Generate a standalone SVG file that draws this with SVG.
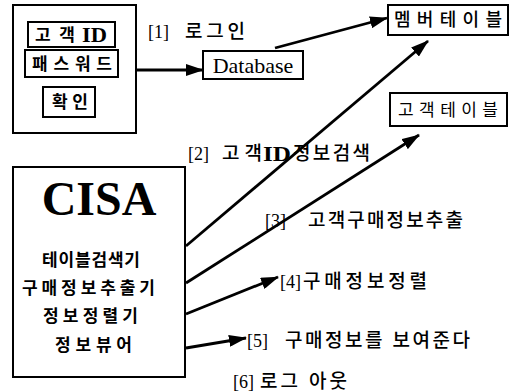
<svg xmlns="http://www.w3.org/2000/svg" width="513" height="392" viewBox="0 0 513 392">
<defs>
<marker id="ah" markerUnits="userSpaceOnUse" markerWidth="18" markerHeight="12" refX="17" refY="6" orient="auto">
<path d="M0,0 L18,6 L0,12 Z" fill="#000"/>
</marker>
<style>
.box{fill:#fff;stroke:#000;stroke-width:2}
.ko{font-family:"Liberation Serif","Noto Sans CJK KR",serif;fill:#000}
.br{font-family:"Liberation Serif",serif;font-size:18px;fill:#000}
.lbl{font-size:19px;font-weight:500}
.in{font-size:17px;font-weight:bold}
.con{stroke:#000;stroke-width:2.8;fill:none;marker-end:url(#ah)}
</style>
</defs>
<rect width="513" height="392" fill="#fff"/>
<g id="login">
<rect class="box" x="13" y="5" width="123" height="128"/>
<rect class="box" x="28" y="22" width="87" height="25"/>
<text class="ko in" x="35" y="41" font-size="18" textLength="40" lengthAdjust="spacing">고객</text>
<text x="82" y="42" font-family="Liberation Serif, serif" font-size="20" font-weight="bold" textLength="25" lengthAdjust="spacingAndGlyphs">ID</text>
<rect class="box" x="25" y="50" width="93" height="27"/>
<text class="ko in" x="32" y="70" font-size="18" textLength="80" lengthAdjust="spacing">패스워드</text>
<rect class="box" x="43" y="87" width="52" height="30"/>
<text class="ko in" x="52" y="108" font-size="18" textLength="36" lengthAdjust="spacing">확인</text>
</g>
<g id="database">
<rect class="box" x="203" y="51" width="100" height="28"/>
<text x="253" y="73" text-anchor="middle" font-family="Liberation Serif, serif" font-size="22">Database</text>
</g>
<g id="member">
<rect class="box" x="388" y="5" width="120" height="30"/>
<text class="ko" x="394" y="26" font-size="18" font-weight="500" textLength="108" lengthAdjust="spacing">멤버테이블</text>
</g>
<g id="customer">
<rect class="box" x="390" y="93" width="117" height="33"/>
<text class="ko" x="398" y="116" font-size="17" textLength="100" lengthAdjust="spacing">고객테이블</text>
</g>
<g id="cisa">
<rect class="box" x="13" y="167" width="172" height="210"/>
<text x="99" y="215" text-anchor="middle" font-family="Liberation Serif, serif" font-size="48" font-weight="bold">CISA</text>
<text class="ko in" x="42" y="266" textLength="98" lengthAdjust="spacing">테이블검색기</text>
<text class="ko in" x="22" y="294" font-size="18" textLength="133" lengthAdjust="spacing">구매정보추출기</text>
<text class="ko in" x="43" y="322" font-size="18" textLength="95" lengthAdjust="spacing">정보정렬기</text>
<text class="ko in" x="55" y="351" font-size="18" textLength="77" lengthAdjust="spacing">정보뷰어</text>
</g>
<g id="connectors">
<line class="con" x1="136" y1="70" x2="203" y2="70"/>
<line class="con" x1="275" y1="48" x2="387" y2="18"/>
<line class="con" x1="186" y1="246" x2="428" y2="41"/>
<line class="con" x1="186" y1="283" x2="419" y2="135"/>
<line class="con" x1="186" y1="314" x2="278" y2="277"/>
<line class="con" x1="186" y1="348" x2="246" y2="338"/>
</g>
<g id="labels">
<text class="br" x="148" y="38">[1]</text>
<text class="ko lbl" x="185" y="38" textLength="60" lengthAdjust="spacing">로그인</text>
<text class="br" x="188" y="160">[2]</text>
<text class="ko lbl" x="222" y="160" textLength="40" lengthAdjust="spacing">고객</text>
<text x="263" y="161" font-family="Liberation Serif, serif" font-size="21" font-weight="bold" textLength="28" lengthAdjust="spacingAndGlyphs">ID</text>
<text class="ko lbl" x="293" y="160" textLength="77" lengthAdjust="spacing">정보검색</text>
<text class="br" x="265" y="227">[3]</text>
<text class="ko lbl" x="308" y="227" textLength="155" lengthAdjust="spacing">고객구매정보추출</text>
<text class="br" x="280" y="288">[4]</text>
<text class="ko lbl" x="303" y="288" textLength="124" lengthAdjust="spacing">구매정보정렬</text>
<text class="br" x="247" y="347">[5]</text>
<text class="ko lbl" x="285" y="347" textLength="185" lengthAdjust="spacing">구매정보를 보여준다</text>
<text class="br" x="233" y="388">[6]</text>
<text class="ko lbl" x="260" y="388" textLength="87" lengthAdjust="spacing">로그 아웃</text>
</g>
</svg>
